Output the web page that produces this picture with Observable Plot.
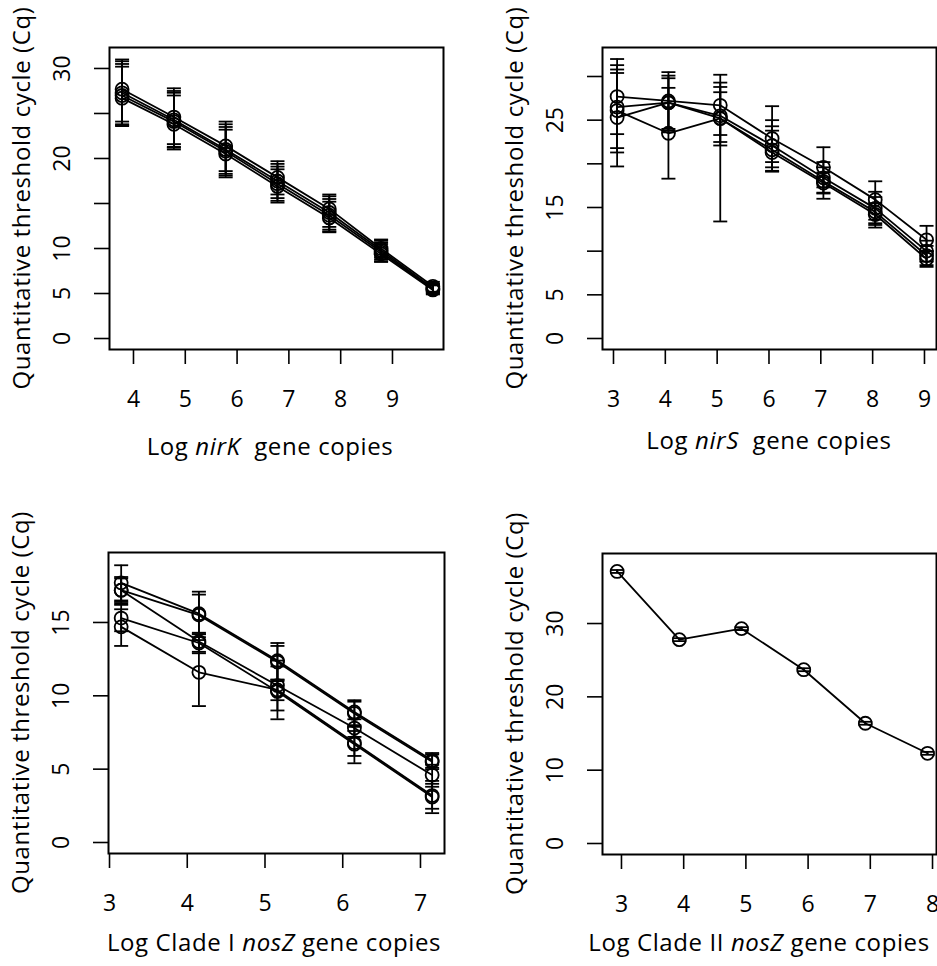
<!DOCTYPE html>
<html>
<head>
<meta charset="utf-8">
<script src="https://cdn.jsdelivr.net/npm/d3@7"></script>
<script src="https://cdn.jsdelivr.net/npm/@observablehq/plot@0.6"></script>
<style>
  body { margin: 0; background: #fff; }
  #fig { position: relative; width: 937px; height: 966px; font-family: "Open Sans", sans-serif; }
  #fig svg { position: absolute; overflow: visible; }
</style>
</head>
<body>
<div id="fig"></div>
<script>
// ---- nirK standard curves (4 runs) ----
const nirkLog = [3.78, 4.78, 5.78, 6.78, 7.78, 8.78, 9.78];
const nirkCq = [
  [27.7, 24.6, 21.4, 17.9, 14.4, 10.0, 5.8],
  [27.3, 24.3, 21.0, 17.5, 14.0, 9.8, 5.6],
  [27.0, 24.1, 20.8, 17.2, 13.7, 9.6, 5.5],
  [26.7, 23.8, 20.5, 16.9, 13.4, 9.4, 5.4]
];
const nirkLo = [
  [24.1, 21.6, 18.6, 16.0, 12.4, 9.0, 5.2],
  [23.8, 21.3, 18.3, 15.6, 12.1, 8.8, 5.1],
  [23.7, 21.2, 18.1, 15.3, 11.9, 8.6, 5.0],
  [23.6, 21.0, 17.9, 15.1, 11.8, 8.5, 4.9]
];
const nirkHi = [
  [31.0, 27.8, 24.1, 19.7, 16.0, 11.0, 6.3],
  [30.8, 27.5, 23.8, 19.4, 15.8, 10.9, 6.1],
  [30.5, 27.3, 23.5, 19.1, 15.5, 10.7, 6.0],
  [30.2, 27.0, 23.2, 18.8, 15.2, 10.5, 5.9]
];
const nirkXTicks = [4, 5, 6, 7, 8, 9];
const nirkYTicks = [0, 5, 10, 15, 20, 25, 30];
const nirkYLabels = [0, 5, 10, 20, 30];

// ---- nirS standard curves (4 runs) ----
const nirsLog = [3.07, 4.06, 5.06, 6.06, 7.05, 8.05, 9.04];
const nirsCq = [
  [27.7, 27.2, 26.7, 22.9, 19.6, 15.9, 11.3],
  [26.5, 27.0, 25.5, 22.1, 18.4, 14.9, 10.0],
  [26.1, 23.5, 25.2, 21.6, 18.0, 14.5, 9.5],
  [25.3, 27.0, 25.2, 21.3, 17.8, 14.2, 9.1]
];
const nirsLo = [
  [23.4, 23.6, 23.3, 19.2, 17.3, 13.6, 10.0],
  [21.3, 23.8, 22.5, 19.6, 16.6, 13.0, 8.8],
  [21.8, 18.3, 13.4, 20.2, 16.0, 12.7, 8.4],
  [19.7, 24.0, 22.1, 19.1, 16.7, 13.2, 8.2]
];
const nirsHi = [
  [32.0, 30.5, 30.2, 26.6, 21.9, 18.0, 12.9],
  [31.3, 30.1, 29.3, 25.0, 20.2, 16.8, 11.2],
  [30.4, 28.7, 28.8, 23.8, 19.6, 16.2, 10.6],
  [30.8, 29.8, 28.2, 24.3, 19.0, 15.5, 10.0]
];
const nirsXTicks = [3, 4, 5, 6, 7, 8, 9];
const nirsYTicks = [0, 5, 10, 15, 20, 25, 30];
const nirsYLabels = [0, 5, 15, 25];

// ---- Clade I nosZ standard curves (5 runs) ----
const nosz1Log = [3.15, 4.15, 5.16, 6.15, 7.15];
const nosz1Cq = [
  [17.7, 15.6, 12.4, 8.9, 5.6],
  [17.2, 15.5, 12.3, 8.8, 5.5],
  [17.2, 13.7, 10.7, 7.8, 4.6],
  [15.3, 13.6, 10.3, 6.7, 3.1],
  [14.7, 11.6, 10.4, 6.8, 3.2]
];
const nosz1Lo = [
  [16.5, 14.2, 11.1, 8.0, 5.1],
  [16.3, 14.0, 11.0, 7.9, 5.0],
  [16.4, 13.0, 9.0, 7.2, 3.8],
  [14.4, 12.9, 8.4, 5.4, 2.0],
  [13.4, 9.3, 9.7, 5.9, 2.3]
];
const nosz1Hi = [
  [18.9, 17.1, 13.6, 9.7, 6.1],
  [18.1, 16.9, 13.4, 9.6, 6.0],
  [18.0, 14.3, 12.4, 8.4, 5.3],
  [16.2, 14.2, 12.0, 7.9, 4.2],
  [15.9, 13.8, 11.1, 7.6, 4.0]
];
const nosz1XTicks = [3, 4, 5, 6, 7];
const nosz1YTicks = [0, 5, 10, 15];
const nosz1YLabels = [0, 5, 10, 15];

// ---- Clade II nosZ standard curve (1 run) ----
const nosz2Log = [2.93, 3.93, 4.93, 5.93, 6.92, 7.92];
const nosz2Cq = [[37.1, 27.8, 29.3, 23.7, 16.4, 12.3]];
const nosz2Lo = [[36.9, 27.6, 29.1, 23.5, 16.2, 12.1]];
const nosz2Hi = [[37.3, 28.0, 29.5, 23.9, 16.6, 12.5]];
const nosz2XTicks = [3, 4, 5, 6, 7, 8];
const nosz2YTicks = [0, 10, 20, 30];
const nosz2YLabels = [0, 10, 20, 30];

const FONT = "Open Sans";
const FS = 23;        // tick labels
const TITLE_FS = 24;  // axis titles

// horizontal bar used as the error-bar cap
const capSymbol = {
  draw(context, size) {
    const w = Math.sqrt(size / Math.PI);
    context.moveTo(-w, 0);
    context.lineTo(w, 0);
  }
};

function tidy(xs, cq, lo, hi) {
  const rows = [];
  cq.forEach((run, s) => run.forEach((v, i) => rows.push({x: xs[i], cq: v, lo: lo[s][i], hi: hi[s][i], run: s})));
  return rows;
}

function panel(cfg) {
  const rows = tidy(cfg.xs, cfg.cq, cfg.lo, cfg.hi);
  const svg = Plot.plot({
    width: cfg.width,
    height: cfg.height,
    marginLeft: cfg.m[0], marginRight: cfg.m[1], marginTop: cfg.m[2], marginBottom: cfg.m[3],
    x: {domain: cfg.xDomain},
    y: {domain: cfg.yDomain},
    style: {fontFamily: FONT, fontSize: FS + "px", color: "black", background: "transparent", overflow: "visible"},
    marks: [
      Plot.axisX({ticks: cfg.xTicks, tickSize: 15, tickPadding: 26, strokeWidth: 1.6, tickFormat: d => String(d), label: null}),
      Plot.axisY({ticks: cfg.yTicks, tickSize: 15, tickPadding: 32, strokeWidth: 1.6,
        tickFormat: d => cfg.yLabels.includes(d) ? String(d) : "",
        tickRotate: -90, textAnchor: "middle", lineAnchor: "middle", label: null}),
      Plot.ruleX(rows, {x: "x", y1: "lo", y2: "hi", stroke: "black", strokeWidth: 1.8}),
      Plot.dot(rows, {x: "x", y: "lo", symbol: capSymbol, r: 7, fill: "none", stroke: "black", strokeWidth: 1.8}),
      Plot.dot(rows, {x: "x", y: "hi", symbol: capSymbol, r: 7, fill: "none", stroke: "black", strokeWidth: 1.8}),
      Plot.line(rows, {x: "x", y: "cq", z: "run", stroke: "black", strokeWidth: 1.8}),
      Plot.dot(rows, {x: "x", y: "cq", r: 6.5, fill: "none", stroke: "black", strokeWidth: 1.8}),
      Plot.frame({stroke: "black", strokeWidth: 2})
    ]
  });
  svg.style.left = cfg.left + "px";
  svg.style.top = cfg.top + "px";

  const s = d3.select(svg);
  const frameH = cfg.height - cfg.m[2] - cfg.m[3];
  // y-axis title
  s.append("text")
    .attr("transform", `translate(${cfg.m[0] - 87},${cfg.m[2] + frameH / 2}) rotate(-90)`)
    .attr("text-anchor", "middle").attr("dy", "0.35em")
    .attr("font-family", FONT).attr("font-size", TITLE_FS).attr("letter-spacing", "0.6px").attr("fill", "black")
    .text("Quantitative threshold cycle (Cq)");
  // x-axis title with italic gene name
  const t = s.append("text")
    .attr("x", cfg.xTitle[0]).attr("y", cfg.xTitle[1])
    .attr("text-anchor", "middle").attr("dy", "0.35em")
    .attr("font-family", FONT).attr("font-size", TITLE_FS).attr("letter-spacing", "0.6px").attr("fill", "black");
  t.append("tspan").text(cfg.xLabel[0]);
  t.append("tspan").attr("font-style", "italic").text(cfg.xLabel[1]);
  t.append("tspan").text(cfg.xLabel[2]);
  document.getElementById("fig").appendChild(svg);
}

panel({
  left: 0, top: 0, width: 468, height: 483, m: [109, 25, 47, 134],
  xs: nirkLog, cq: nirkCq, lo: nirkLo, hi: nirkHi,
  xDomain: [3.537, 9.985], yDomain: [-1.22, 32.33],
  xTicks: nirkXTicks, yTicks: nirkYTicks, yLabels: nirkYLabels,
  xTitle: [270, 447], xLabel: ["Log ", "nirK", "  gene copies"]
});
panel({
  left: 468, top: 0, width: 469, height: 483, m: [134, 1, 47, 134],
  xs: nirsLog, cq: nirsCq, lo: nirsLo, hi: nirsHi,
  xDomain: [2.788, 9.232], yDomain: [-1.26, 33.32],
  xTicks: nirsXTicks, yTicks: nirsYTicks, yLabels: nirsYLabels,
  xTitle: [301, 441], xLabel: ["Log ", "nirS", "  gene copies"]
});
panel({
  left: 0, top: 483, width: 468, height: 483, m: [108, 24, 69, 113],
  xs: nosz1Log, cq: nosz1Cq, lo: nosz1Lo, hi: nosz1Hi,
  xDomain: [2.987, 7.309], yDomain: [-0.75, 19.77],
  xTicks: nosz1XTicks, yTicks: nosz1YTicks, yLabels: nosz1YLabels,
  xTitle: [274, 460], xLabel: ["Log Clade I ", "nosZ", " gene copies"]
});
panel({
  left: 468, top: 483, width: 469, height: 483, m: [134, 1, 70, 112],
  xs: nosz2Log, cq: nosz2Cq, lo: nosz2Lo, hi: nosz2Hi,
  xDomain: [2.695, 8.064], yDomain: [-1.5, 39.55],
  xTicks: nosz2XTicks, yTicks: nosz2YTicks, yLabels: nosz2YLabels,
  xTitle: [291, 460], xLabel: ["Log Clade II ", "nosZ", " gene copies"]
});
</script>
</body>
</html>
